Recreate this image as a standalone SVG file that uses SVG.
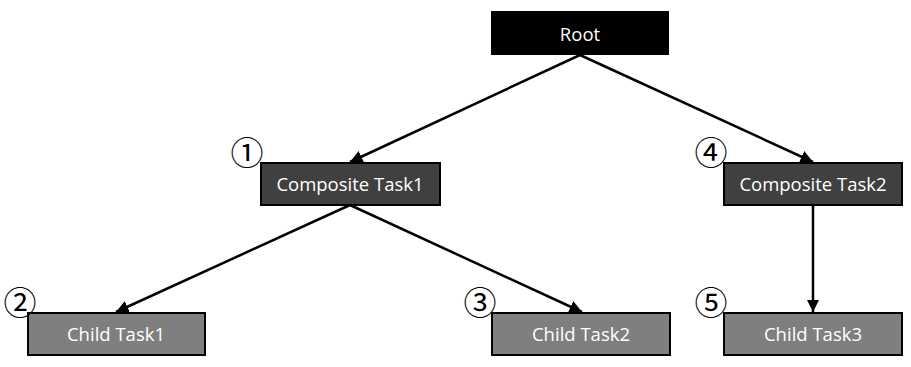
<svg xmlns="http://www.w3.org/2000/svg" width="911" height="367" viewBox="0 0 911 367">
<style>
.box{stroke:#000;stroke-width:2}
.root{fill:#000}
.comp{fill:#404040}
.child{fill:#7f7f7f}
.lbl{fill:#fff;font-family:"Open Sans","Noto Sans",sans-serif;font-size:18.5px;text-anchor:middle;dominant-baseline:central}
.num{fill:#000;font-family:"Noto Sans CJK KR","DejaVu Sans",sans-serif;font-size:33px;text-anchor:middle;dominant-baseline:central}
.edge{stroke:#000;stroke-width:2.5;fill:none;marker-end:url(#arr)}
</style>
<defs>
<marker id="arr" viewBox="0 0 10 10" refX="10" refY="5" markerWidth="5" markerHeight="5" orient="auto" markerUnits="strokeWidth">
<path d="M0,0 L10,5 L0,10 Z" fill="#000"/>
</marker>
</defs>
<g id="connectors">
<line class="edge" x1="580" y1="55" x2="350" y2="162"/>
<line class="edge" x1="580" y1="55" x2="813" y2="162"/>
<line class="edge" x1="350" y1="205" x2="116" y2="312"/>
<line class="edge" x1="350" y1="205" x2="582" y2="312"/>
<line class="edge" x1="813" y1="205" x2="813" y2="312"/>
</g>
<g id="root"><rect class="root" x="491" y="11" width="178" height="44"/><text class="lbl" x="580" y="33">Root</text></g>
<g id="composite1"><rect class="box comp" x="261" y="163" width="179" height="42"/><text class="lbl" x="350" y="183">Composite Task1</text><text class="num" x="247" y="151">①</text></g>
<g id="composite2"><rect class="box comp" x="724" y="163" width="178" height="42"/><text class="lbl" x="813" y="183">Composite Task2</text><text class="num" x="711" y="151">④</text></g>
<g id="child1"><rect class="box child" x="28" y="313" width="177" height="42"/><text class="lbl" x="116" y="333">Child Task1</text><text class="num" x="20" y="301">②</text></g>
<g id="child2"><rect class="box child" x="492" y="313" width="178" height="42"/><text class="lbl" x="581" y="333">Child Task2</text><text class="num" x="480" y="301">③</text></g>
<g id="child3"><rect class="box child" x="724" y="313" width="178" height="42"/><text class="lbl" x="813" y="333">Child Task3</text><text class="num" x="711" y="301">⑤</text></g>
</svg>
